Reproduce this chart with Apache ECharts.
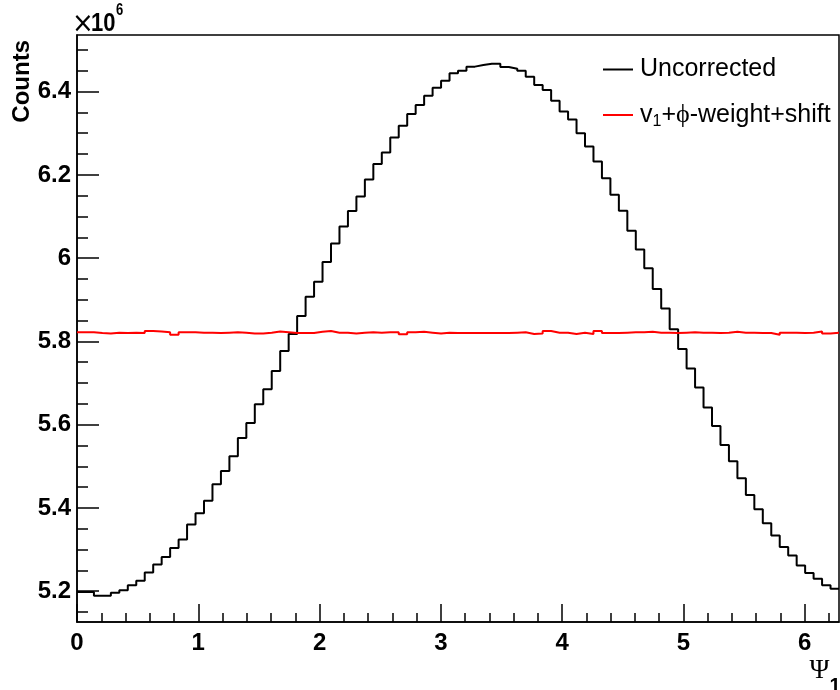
<!DOCTYPE html>
<html>
<head>
<meta charset="utf-8">
<script src="https://cdn.jsdelivr.net/npm/echarts@6/dist/echarts.min.js"></script>
<style>
  html, body { margin: 0; padding: 0; background: #fff; }
  #chart { width: 840px; height: 690px; }
</style>
</head>
<body>
<div id="chart"></div>
<script>
// histogram: 90 bins over [0, 2pi], values in units of 10^6 counts
const binCount = 90;
const xMin = 0;
const xMax = 2 * Math.PI;

const uncorrected = [
    5.198, 5.198, 5.189, 5.189, 5.196, 5.202, 5.214, 5.225, 5.245, 5.264,
    5.282, 5.304, 5.324, 5.360, 5.387, 5.417, 5.457, 5.489, 5.524, 5.568,
    5.604, 5.649, 5.685, 5.729, 5.777, 5.818, 5.861, 5.907, 5.943, 5.991,
    6.035, 6.076, 6.113, 6.148, 6.189, 6.226, 6.254, 6.290, 6.318, 6.346,
    6.368, 6.390, 6.409, 6.426, 6.444, 6.450, 6.460, 6.464, 6.467, 6.467,
    6.459, 6.455, 6.450, 6.436, 6.416, 6.404, 6.378, 6.352, 6.333, 6.300,
    6.268, 6.232, 6.192, 6.152, 6.114, 6.066, 6.021, 5.976, 5.926, 5.879,
    5.829, 5.782, 5.735, 5.689, 5.641, 5.597, 5.551, 5.512, 5.471, 5.431,
    5.397, 5.363, 5.334, 5.306, 5.286, 5.262, 5.244, 5.230, 5.214, 5.206
];

const corrected = [
    5.822, 5.822, 5.820, 5.819, 5.821, 5.820, 5.821, 5.820, 5.825, 5.824,
    5.822, 5.816, 5.822, 5.822, 5.821, 5.821, 5.820, 5.821, 5.822, 5.821,
    5.819, 5.819, 5.821, 5.824, 5.822, 5.820, 5.820, 5.820, 5.823, 5.825,
    5.821, 5.821, 5.819, 5.821, 5.822, 5.821, 5.822, 5.822, 5.817, 5.822,
    5.823, 5.821, 5.819, 5.821, 5.820, 5.820, 5.820, 5.820, 5.820, 5.820,
    5.820, 5.821, 5.822, 5.818, 5.819, 5.825, 5.821, 5.821, 5.818, 5.821,
    5.818, 5.825, 5.820, 5.820, 5.821, 5.822, 5.822, 5.823, 5.821, 5.821,
    5.820, 5.821, 5.822, 5.821, 5.821, 5.820, 5.821, 5.823, 5.821, 5.821,
    5.820, 5.820, 5.816, 5.821, 5.821, 5.820, 5.821, 5.824, 5.819, 5.821
];

const xMajorTicks = [0, 1, 2, 3, 4, 5, 6];
const xMinorTicks = [0.2, 0.4, 0.6, 0.8, 1.2, 1.4, 1.6, 1.8, 2.2, 2.4, 2.6, 2.8,
    3.2, 3.4, 3.6, 3.8, 4.2, 4.4, 4.6, 4.8, 5.2, 5.4, 5.6, 5.8, 6.2];
const yMajorTicks = [5.2, 5.4, 5.6, 5.8, 6.0, 6.2, 6.4];
const yMinorTicks = [5.15, 5.25, 5.3, 5.35, 5.45, 5.5, 5.55, 5.65, 5.7, 5.75,
    5.85, 5.9, 5.95, 6.05, 6.1, 6.15, 6.25, 6.3, 6.35, 6.45, 6.5];
const yMin = 5.126;
const yMax = 6.536;

// bin contents -> step points at the bin edges
function toSteps(values) {
    let width = (xMax - xMin) / binCount;
    let pts = values.map(function (v, i) {
        return [xMin + i * width, v];
    });
    pts.push([xMax, values[values.length - 1]]);
    return pts;
}

let myChart = echarts.init(document.getElementById('chart'));

let sans = 'Liberation Sans, Arial, sans-serif';
let labelFont = {
    color: '#000',
    fontFamily: sans,
    fontWeight: 'bold',
    fontSize: 24
};

function label(text, x, y, size, weight, family, align, scaleY) {
    return {
        type: 'text',
        x: x,
        y: y,
        scaleY: scaleY || 1,
        style: {
            text: text,
            fill: '#000',
            fontSize: size,
            fontWeight: weight,
            fontFamily: family,
            align: align || 'left',
            verticalAlign: 'middle'
        }
    };
}

let option = {
    animation: false,
    backgroundColor: '#fff',
    grid: {
        left: 77,
        right: 1,
        top: 35,
        bottom: 68,
        show: true,
        borderColor: '#000',
        borderWidth: 1.5,
        outerBoundsMode: 'none'
    },
    legend: {
        orient: 'vertical',
        left: 603,
        top: 57,
        padding: 0,
        itemGap: 18,
        itemWidth: 30,
        itemHeight: 2,
        icon: 'rect',
        data: ['Uncorrected', 'corrected'],
        formatter: function (name) {
            if (name === 'corrected') {
                return '{a|v}{s|1}{a|+}{p|ϕ}{a|-weight+shift}';
            }
            return '{a|' + name + '}';
        },
        textStyle: {
            color: '#000',
            padding: [0, 0, 0, 2],
            rich: {
                a: { fontFamily: sans, fontSize: 25, lineHeight: 30, color: '#000' },
                s: { fontFamily: sans, fontSize: 16, lineHeight: 30, padding: [14, 0, 0, 0], color: '#000' },
                p: { fontFamily: 'Liberation Serif, serif', fontSize: 26, lineHeight: 30, color: '#000' }
            }
        }
    },
    graphic: [
        {
            type: 'text',
            left: 10,
            top: 40,
            rotation: Math.PI / 2,
            style: {
                text: 'Counts',
                fill: '#000',
                fontSize: 24,
                fontWeight: 'bold',
                fontFamily: sans
            }
        },
        label('×', 83, 25, 26, 'normal', 'DejaVu Sans, sans-serif', 'center', 1.1),
        label('10', 91, 23.5, 22, 'bold', sans, 'left', 1.2),
        label('6', 116, 10.5, 13, 'bold', sans, 'left', 1.25),
        label('Ψ', 819.5, 671, 27, 'normal', 'Liberation Serif, serif', 'center'),
        label('1', 835, 686, 20, 'bold', sans, 'center')
    ],
    xAxis: [{
        type: 'value',
        min: xMin,
        max: xMax,
        axisLine: { lineStyle: { color: '#000', width: 1.5 } },
        axisTick: { inside: true, length: 18, customValues: xMajorTicks, lineStyle: { color: '#000', width: 1.5 } },
        axisLabel: Object.assign({ customValues: xMajorTicks, margin: 9 }, labelFont),
        splitLine: { show: false }
    }, {
        type: 'value',
        min: xMin,
        max: xMax,
        position: 'bottom',
        axisLine: { show: false },
        axisTick: { inside: true, length: 9, customValues: xMinorTicks, lineStyle: { color: '#000', width: 1.5 } },
        axisLabel: { show: false },
        splitLine: { show: false }
    }],
    yAxis: [{
        type: 'value',
        min: yMin,
        max: yMax,
        axisLine: { show: true, lineStyle: { color: '#000', width: 1.5 } },
        axisTick: { show: true, inside: true, length: 22, customValues: yMajorTicks, lineStyle: { color: '#000', width: 1.5 } },
        axisLabel: Object.assign({
            customValues: yMajorTicks,
            margin: 6,
            formatter: function (v) { return String(+v.toFixed(1)); }
        }, labelFont),
        splitLine: { show: false }
    }, {
        type: 'value',
        min: yMin,
        max: yMax,
        position: 'left',
        axisLine: { show: false },
        axisTick: { show: true, inside: true, length: 11, customValues: yMinorTicks, lineStyle: { color: '#000', width: 1.5 } },
        axisLabel: { show: false },
        splitLine: { show: false }
    }],
    series: [{
        name: 'Uncorrected',
        type: 'line',
        step: 'end',
        showSymbol: false,
        color: '#000',
        lineStyle: { color: '#000', width: 2 },
        data: toSteps(uncorrected),
        z: 2
    }, {
        name: 'corrected',
        type: 'line',
        step: 'end',
        showSymbol: false,
        color: '#ff0000',
        lineStyle: { color: '#ff0000', width: 2 },
        data: toSteps(corrected),
        z: 3
    }]
};

myChart.setOption(option);
</script>
</body>
</html>
